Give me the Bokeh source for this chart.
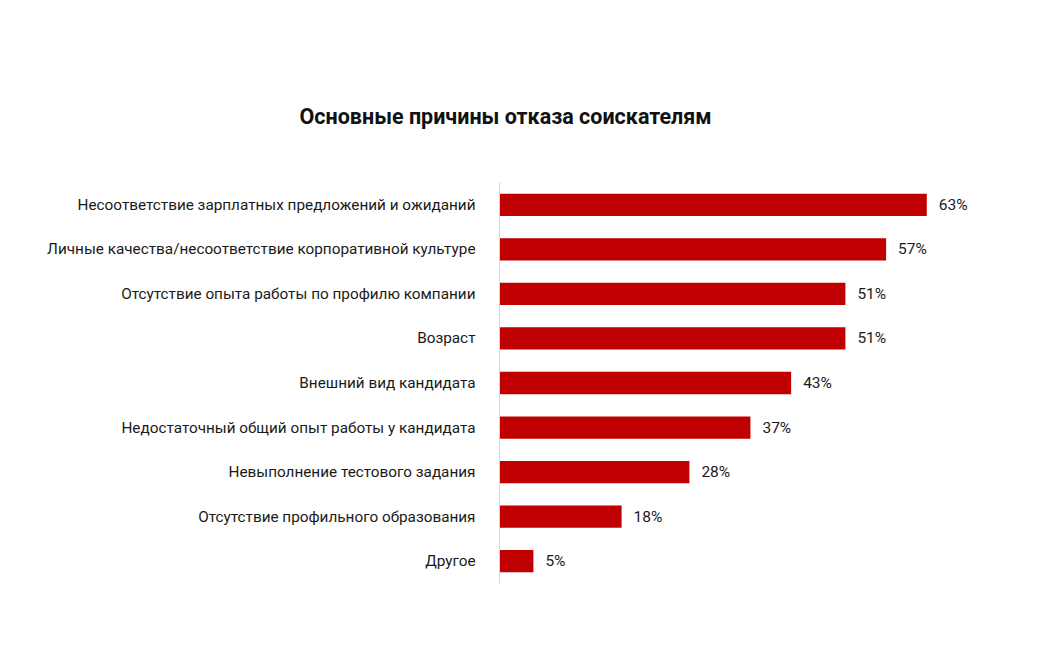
from bokeh.plotting import figure
from bokeh.models import ColumnDataSource, FactorRange
from bokeh.core.properties import value
from bokeh.embed import file_html
from bokeh.resources import INLINE

categories = [
    "Несоответствие зарплатных предложений и ожиданий",
    "Личные качества/несоответствие корпоративной культуре",
    "Отсутствие опыта работы по профилю компании",
    "Возраст",
    "Внешний вид кандидата",
    "Недостаточный общий опыт работы у кандидата",
    "Невыполнение тестового задания",
    "Отсутствие профильного образования",
    "Другое",
]
values = [63, 57, 51, 51, 43, 37, 28, 18, 5]
value_labels = [f"{v}%" for v in values]
title_text = "Основные причины отказа соискателям"

FONT = "Roboto"
src = ColumnDataSource(dict(cat=categories, val=values, lab=value_labels))

p = figure(
    width=1026, height=654,
    y_range=FactorRange(factors=list(reversed(categories))),
    x_range=(0, 74.9),
    output_backend="svg", toolbar_location=None,
    min_border_left=499, min_border_right=19,
    min_border_top=182, min_border_bottom=71,
    title=title_text,
)
p.outline_line_color = None
p.background_fill_color = "white"
p.border_fill_color = "white"
p.xgrid.visible = False
p.ygrid.visible = False
p.xaxis.visible = False

p.title.text_font = FONT
p.title.text_font_size = "21.5px"
p.title.text_font_style = "bold"
p.title.text_color = "#111111"
p.title.align = "left"
p.title.offset = -200
p.title.standoff = 107

p.hbar(y="cat", right="val", left=0, height=0.5, source=src,
       fill_color="#C00000", line_color=None)
p.text(x="val", y="cat", text="lab", source=src, x_offset=12,
       text_baseline="middle", text_align="left",
       text_font=value(FONT), text_font_size="15.5px", text_color="#1a1a1a")

ax = p.yaxis[0]
ax.axis_line_color = "#d9d9d9"
ax.axis_line_width = 1
ax.major_tick_line_color = None
ax.minor_tick_line_color = None
ax.major_label_standoff = 18
ax.major_label_text_font = FONT
ax.major_label_text_font_size = "15.3px"
ax.major_label_text_color = "#1a1a1a"

open("out.html", "w").write(file_html(p, INLINE))
